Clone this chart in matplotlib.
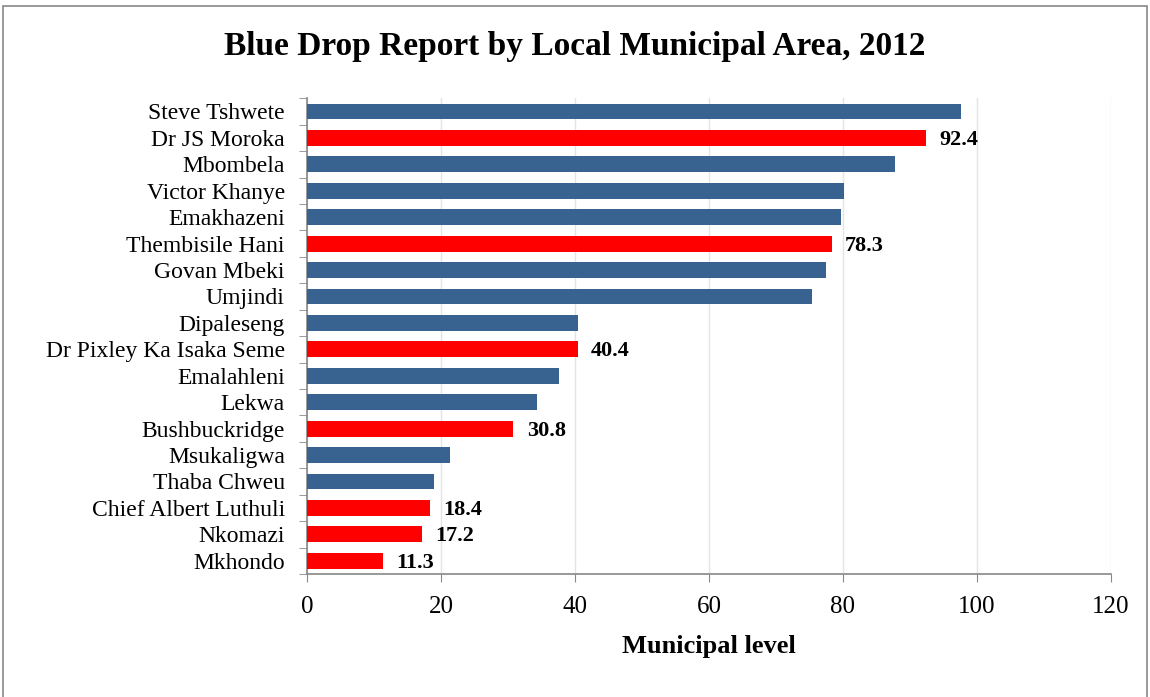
import numpy as np
import matplotlib.pyplot as plt
from matplotlib.patches import Rectangle

plt.rcParams['font.family'] = ['Liberation Serif', 'DejaVu Serif']

municipalities = ["Steve Tshwete", "Dr JS Moroka", "Mbombela", "Victor Khanye",
                  "Emakhazeni", "Thembisile Hani", "Govan Mbeki", "Umjindi",
                  "Dipaleseng", "Dr Pixley Ka Isaka Seme", "Emalahleni", "Lekwa",
                  "Bushbuckridge", "Msukaligwa", "Thaba Chweu",
                  "Chief Albert Luthuli", "Nkomazi", "Mkhondo"]
scores = [97.6, 92.4, 87.8, 80.1, 79.7, 78.3, 77.5, 75.4, 40.4, 40.4,
          37.6, 34.4, 30.8, 21.3, 19.0, 18.4, 17.2, 11.3]
# municipalities flagged in red and labelled with their score
flagged = ["Dr JS Moroka", "Thembisile Hani", "Dr Pixley Ka Isaka Seme",
           "Bushbuckridge", "Chief Albert Luthuli", "Nkomazi", "Mkhondo"]

blue = "#386391"
red = "#ff0000"
colors = [red if m in flagged else blue for m in municipalities]

fig = plt.figure(figsize=(11.5, 6.97), dpi=100)
ax = fig.add_axes([0.267, 0.1765, 0.699, 0.6825])

y = np.arange(len(municipalities))
ax.barh(y, scores, height=0.6, color=colors, zorder=3)

for yi, m, s in zip(y, municipalities, scores):
    if m in flagged:
        ax.text(s + 2.0, yi + 0.08, f"{s:.1f}", va="center", ha="left",
                fontsize=16, fontweight="bold")

ax.set_xlim(0, 120)
ax.set_ylim(len(municipalities) - 0.5, -0.5)
ax.set_xticks(np.arange(0, 121, 20))
ax.tick_params(axis="x", labelsize=18, length=6, color="#888888", pad=10)

ax.set_yticks(y)
ax.set_yticklabels(municipalities, fontsize=17)
ax.tick_params(axis="y", which="major", length=0, pad=16)
ax.set_yticks(np.arange(-0.5, len(municipalities), 1), minor=True)
ax.tick_params(axis="y", which="minor", length=6, color="#888888")

ax.grid(axis="x", color="#e4e4e4", linewidth=1, zorder=0)
for side in ["top", "right"]:
    ax.spines[side].set_visible(False)
for side in ["left", "bottom"]:
    ax.spines[side].set_color("#888888")
    ax.spines[side].set_linewidth(1.2)

ax.set_xlabel("Municipal level", fontsize=19, fontweight="bold", labelpad=12)
fig.text(0.5, 0.933, "Blue Drop Report by Local Municipal Area, 2012",
         ha="center", va="center", fontsize=24, fontweight="bold")

# border round the whole chart area
fig.patches.append(Rectangle((0.003, -0.01), 0.994, 1.002, transform=fig.transFigure,
                             fill=False, edgecolor="#888888", linewidth=1.2))

fig.savefig("out.png", dpi=100)
